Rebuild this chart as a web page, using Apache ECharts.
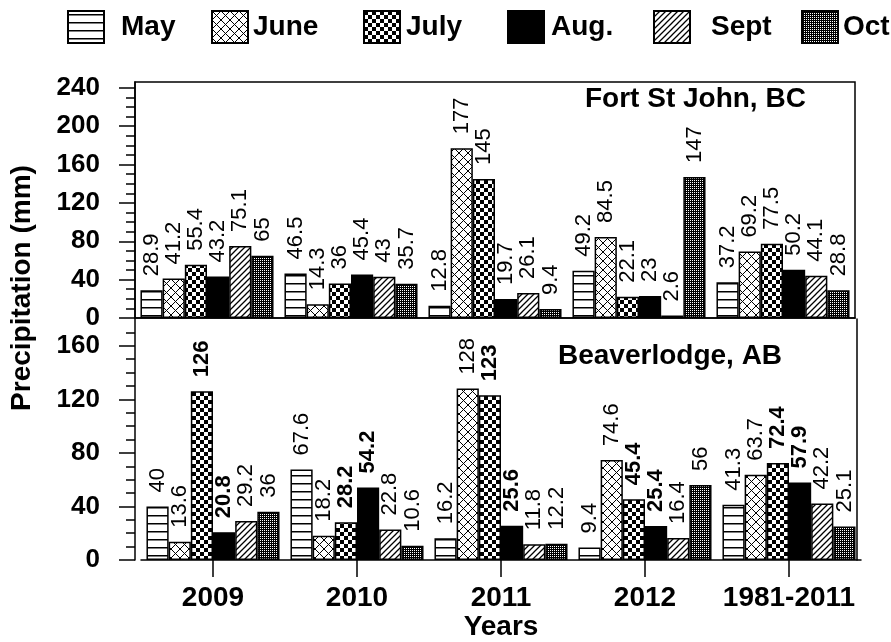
<!DOCTYPE html>
<html><head><meta charset="utf-8">
<script src="https://cdn.jsdelivr.net/npm/echarts@6/dist/echarts.min.js"></script>
<style>html,body{margin:0;padding:0;background:#fff}#c{width:891px;height:642px}</style>
</head><body><div id="c"></div>
<script>
// ---- data ----
const categories = ['2009', '2010', '2011', '2012', '1981-2011'];
const months = ['May', 'June', 'July', 'Aug.', 'Sept', 'Oct'];

// Fort St John, BC
const fsjMay  = [28.9, 46.5, 12.8, 49.2, 37.2];
const fsjJune = [41.2, 14.3, 177, 84.5, 69.2];
const fsjJuly = [55.4, 36, 145, 22.1, 77.5];
const fsjAug  = [43.2, 45.4, 19.7, 23, 50.2];
const fsjSept = [75.1, 43, 26.1, 2.6, 44.1];
const fsjOct  = [65, 35.7, 9.4, 147, 28.8];

// Beaverlodge, AB
const bvlMay  = [40, 67.6, 16.2, 9.4, 41.3];
const bvlJune = [13.6, 18.2, 128, 74.6, 63.7];
const bvlJuly = [126, 28.2, 123, 45.4, 72.4];
const bvlAug  = [20.8, 54.2, 25.6, 25.4, 57.9];
const bvlSept = [29.2, 22.8, 11.8, 16.4, 42.2];
const bvlOct  = [36, 10.6, 12.2, 56, 25.1];

const topTicks = [0, 40, 80, 120, 160, 200, 240];
const bottomTicks = [0, 40, 80, 120, 160];

// ---- patterns ----
function mkCanvas(w, h, draw) {
  const c = document.createElement('canvas');
  c.width = w; c.height = h;
  const g = c.getContext('2d');
  g.fillStyle = '#fff'; g.fillRect(0, 0, w, h);
  g.fillStyle = '#000'; g.strokeStyle = '#000';
  draw(g, w, h);
  return { image: c, repeat: 'repeat' };
}
const patMay = mkCanvas(8, 8, g => { g.fillRect(0, 3, 8, 1.5); });
const patJune = mkCanvas(9, 9, g => {
  g.lineWidth = 1;
  g.beginPath();
  g.moveTo(-1, -1); g.lineTo(10, 10);
  g.moveTo(-1, 10); g.lineTo(10, -1);
  g.stroke();
});
const patJuly = mkCanvas(8, 8, g => { g.fillRect(0, 0, 4, 4); g.fillRect(4, 4, 4, 4); });
const patAug = '#000';
const patSept = mkCanvas(6, 6, g => {
  g.lineWidth = 1.3;
  g.beginPath();
  g.moveTo(-1, 7); g.lineTo(7, -1);
  g.moveTo(-1, 1); g.lineTo(1, -1);
  g.moveTo(5, 7); g.lineTo(7, 5);
  g.stroke();
});
const patOct = mkCanvas(2, 2, g => { g.fillRect(0, 0, 2, 2); g.fillStyle = '#fff'; g.fillRect(0, 0, 1, 1); });

const FONT = "'Liberation Sans', Arial, Helvetica, sans-serif";
const patterns = [patMay, patJune, patJuly, patAug, patSept, patOct];
const topData = [fsjMay, fsjJune, fsjJuly, fsjAug, fsjSept, fsjOct];
const botData = [bvlMay, bvlJune, bvlJuly, bvlAug, bvlSept, bvlOct];

function mkSeries(name, data, panel, pattern, bold) {
  return {
    type: 'bar', name: name, data: data,
    xAxisIndex: panel, yAxisIndex: panel === 0 ? 0 : 2,
    barGap: '0%', barCategoryGap: '7.6%',
    itemStyle: { color: pattern, borderColor: '#000', borderWidth: 1.5 },
    label: {
      show: true, position: 'top', rotate: 90, align: 'left', verticalAlign: 'middle',
      distance: 14, fontSize: 22, color: '#000', fontFamily: FONT,
      fontWeight: bold ? 'bold' : 'normal'
    },
    emphasis: { disabled: true },
    silent: true
  };
}

const series = [];
months.forEach((m, i) => series.push(mkSeries(m, topData[i], 0, patterns[i], false)));
months.forEach((m, i) => series.push(mkSeries(m, botData[i], 1, patterns[i], i === 2 || i === 3)));

const topMinor = []; for (let v = 0; v <= 240; v += 10) topMinor.push(v);
const botMinor = []; for (let v = 0; v <= 170; v += 10) botMinor.push(v);

const legendLeft = [67, 211, 363, 507, 653, 801];
const legendPad = [12, 0, 1, 2, 16, 0];

const axisBlack = { color: '#000', width: 1.5 };
const tickLabelStyle = { fontSize: 26, fontWeight: 'bold', color: '#000', fontFamily: FONT, margin: 35 };

const option = {
  animation: false,
  backgroundColor: '#fff',
  title: [
    { text: 'Fort St John, BC', left: 585, top: 85, padding: 0,
      textStyle: { fontSize: 28, fontWeight: 'bold', color: '#000', fontFamily: FONT } },
    { text: 'Beaverlodge, AB', left: 558, top: 342, padding: 0,
      textStyle: { fontSize: 28, fontWeight: 'bold', color: '#000', fontFamily: FONT } }
  ],
  legend: months.map((m, i) => ({
    data: [m], left: legendLeft[i], top: 10, padding: 0,
    itemWidth: 36, itemHeight: 32, icon: 'rect', selectedMode: false,
    itemStyle: { borderWidth: 2, borderColor: '#000' },
    textStyle: { fontSize: 28, fontWeight: 'bold', color: '#000', fontFamily: FONT, padding: [0, 0, 0, legendPad[i]] }
  })),
  grid: [
    { left: 135, top: 82, width: 720, height: 236, show: true, borderColor: '#000', borderWidth: 1.5, backgroundColor: 'transparent' },
    { left: 141, top: 319, width: 720, height: 241 }
  ],
  xAxis: [
    { gridIndex: 0, type: 'category', data: categories,
      axisLine: { lineStyle: axisBlack }, axisTick: { show: false }, axisLabel: { show: false } },
    { gridIndex: 1, type: 'category', data: categories,
      axisLine: { lineStyle: axisBlack },
      axisTick: { show: true, alignWithLabel: true, length: 17, lineStyle: axisBlack },
      axisLabel: { interval: 0, fontSize: 28, fontWeight: 'bold', color: '#000', fontFamily: FONT, margin: 24 },
      name: 'Years', nameLocation: 'middle', nameGap: 50,
      nameTextStyle: { fontSize: 28, fontWeight: 'bold', color: '#000', fontFamily: FONT } }
  ],
  yAxis: [
    { gridIndex: 0, type: 'value', position: 'left', min: 0, max: 246,
      axisLine: { show: true, lineStyle: axisBlack },
      axisTick: { show: true, customValues: topTicks, length: 16, lineStyle: axisBlack },
      axisLabel: Object.assign({ customValues: topTicks }, tickLabelStyle),
      splitLine: { show: false } },
    { gridIndex: 0, type: 'value', position: 'left', min: 0, max: 246,
      axisLine: { show: false }, axisLabel: { show: false },
      axisTick: { show: true, customValues: topMinor, length: 9, lineStyle: axisBlack },
      splitLine: { show: false } },
    { gridIndex: 1, type: 'value', position: 'left', min: 0, max: 180, offset: 6,
      axisLine: { show: true, lineStyle: axisBlack },
      axisTick: { show: true, customValues: bottomTicks, length: 16, lineStyle: axisBlack },
      axisLabel: Object.assign({ customValues: bottomTicks }, tickLabelStyle),
      splitLine: { show: false } },
    { gridIndex: 1, type: 'value', position: 'left', min: 0, max: 180, offset: 6,
      axisLine: { show: false }, axisLabel: { show: false },
      axisTick: { show: true, customValues: botMinor, length: 9, lineStyle: axisBlack },
      splitLine: { show: false } },
    { gridIndex: 1, type: 'value', min: 0, max: 180, position: 'right', offset: -4,
      axisLine: { show: true, lineStyle: axisBlack }, axisLabel: { show: false },
      axisTick: { show: false }, splitLine: { show: false } }
  ],
  graphic: [
    { type: 'text', x: 22, y: 288, rotation: Math.PI / 2, silent: true,
      style: { text: 'Precipitation (mm)', fill: '#000', fontSize: 28, fontWeight: 'bold',
               fontFamily: FONT, align: 'center', verticalAlign: 'middle' } }
  ],
  series: series
};

const chart = echarts.init(document.getElementById('c'), null, { renderer: 'canvas' });
chart.setOption(option);
</script>
</body></html>
